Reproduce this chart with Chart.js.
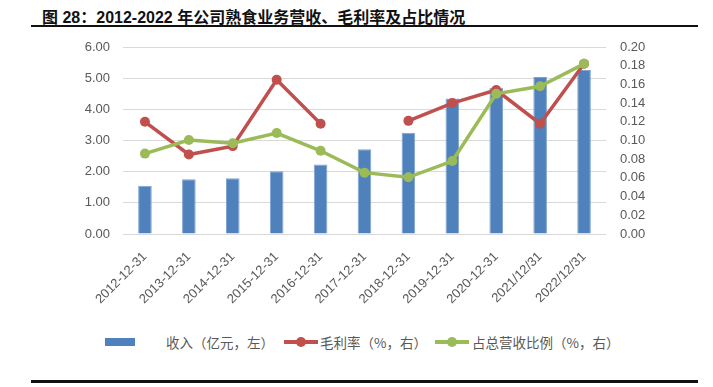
<!DOCTYPE html>
<html lang="zh-CN">
<head>
<meta charset="utf-8">
<title>熟食业务营收、毛利率及占比</title>
<script src="https://cdn.jsdelivr.net/npm/chart.js@4/dist/chart.umd.min.js"></script>
<style>
  body { margin: 0; background: #fff; }
  #page { position: relative; width: 713px; height: 387px; overflow: hidden; }
  #title { position: absolute; left: 42px; top: 4px; font: bold 16px "Liberation Sans", "Noto Sans CJK SC", sans-serif; color: #111; white-space: nowrap; }
  .rule { position: absolute; left: 31px; width: 667px; background: #111; }
  #holder { position: absolute; left: 0; top: 0; width: 713px; height: 330px; }
  .lg { position: absolute; top: 333px; font: 13.5px "Noto Sans CJK SC", sans-serif; color: #595959; white-space: nowrap; line-height: 18px; }
  .mk { position: absolute; }
</style>
</head>
<body>
<div id="page">
  <div id="title">图 28：2012-2022 年公司熟食业务营收、毛利率及占比情况</div>
  <div class="rule" style="top:25px;height:2px"></div>
  <div id="holder"><canvas id="chart"></canvas></div>
  <div id="legend"></div>
  <div class="rule" style="top:380px;height:3px"></div>
</div>

<script>
// data
const categories = ['2012-12-31', '2013-12-31', '2014-12-31', '2015-12-31', '2016-12-31',
  '2017-12-31', '2018-12-31', '2019-12-31', '2020-12-31', '2021/12/31', '2022/12/31'];
const revenue = [1.55, 1.76, 1.79, 2.01, 2.23, 2.72, 3.25, 4.35, 4.69, 5.04, 5.26];
const grossMargin = [0.120, 0.085, 0.094, 0.165, 0.118, null, 0.121, 0.140, 0.154, 0.118, 0.182];
const shareOfTotal = [0.086, 0.1005, 0.097, 0.108, 0.089, 0.0656, 0.0606, 0.078, 0.150, 0.158, 0.182];
const seriesNames = ['收入（亿元，左）', '毛利率（%，右）', '占总营收比例（%，右）'];
const leftTicks = [0, 1, 2, 3, 4, 5, 6];
const rightTicks = [0, 0.02, 0.04, 0.06, 0.08, 0.10, 0.12, 0.14, 0.16, 0.18, 0.20];

const BLUE = '#4f81bd', RED = '#c0504d', GREEN = '#9bbb59', GREY = '#595959';
const tickFont = { family: '"Liberation Sans", sans-serif', size: 13 };

new Chart(document.getElementById('chart'), {
  data: {
    labels: categories,
    datasets: [
      { type: 'bar', label: seriesNames[0], data: revenue, yAxisID: 'yL', order: 2,
        backgroundColor: BLUE, borderColor: '#7fa3cf', borderWidth: 1,
        barPercentage: 0.31, categoryPercentage: 1 },
      { type: 'line', label: seriesNames[1], data: grossMargin, yAxisID: 'yR', order: 1,
        borderColor: RED, backgroundColor: RED, borderWidth: 3.5, pointRadius: 5,
        pointBorderWidth: 0, spanGaps: false, tension: 0 },
      { type: 'line', label: seriesNames[2], data: shareOfTotal, yAxisID: 'yR', order: 0,
        borderColor: GREEN, backgroundColor: GREEN, borderWidth: 3.5, pointRadius: 5,
        pointBorderWidth: 0, tension: 0 }
    ]
  },
  options: {
    responsive: true,
    maintainAspectRatio: false,
    animation: false,
    layout: { padding: { top: 47, left: 0, right: 0, bottom: 0 } },
    plugins: { legend: { display: false }, tooltip: { enabled: false } },
    scales: {
      x: {
        grid: { display: false },
        border: { display: false },
        ticks: { color: GREY, font: tickFont, minRotation: 45, maxRotation: 45, autoSkip: false, padding: 7 },
        afterFit: s => { s.height = 96; }
      },
      yL: {
        position: 'left', min: 0, max: 6,
        grid: { color: '#d9d9d9', lineWidth: 1, drawTicks: false },
        border: { display: false },
        afterBuildTicks: s => { s.ticks = leftTicks.map(v => ({ value: v })); },
        ticks: { color: GREY, font: tickFont, padding: 13, callback: v => v.toFixed(2) },
        afterFit: s => { s.width = 123; }
      },
      yR: {
        position: 'right', min: 0, max: 0.2,
        grid: { display: false, drawTicks: false },
        border: { display: false },
        afterBuildTicks: s => { s.ticks = rightTicks.map(v => ({ value: v })); },
        ticks: { color: GREY, font: tickFont, padding: 14, callback: v => v.toFixed(2) },
        afterFit: s => { s.width = 107; }
      }
    }
  }
});

// legend drawn as html next to the chart
const legend = document.getElementById('legend');
function add(html) { legend.insertAdjacentHTML('beforeend', html); }
add(`<div class="mk" style="left:105px;top:338px;width:30px;height:8px;background:${BLUE}"></div>`);
add(`<div class="lg" style="left:166px">${seriesNames[0]}</div>`);
[[284, RED, 320, seriesNames[1]], [435, GREEN, 472, seriesNames[2]]].forEach(([x, c, tx, name]) => {
  add(`<div class="mk" style="left:${x}px;top:340px;width:34px;height:4px;background:${c}"></div>`);
  add(`<div class="mk" style="left:${x + 12}px;top:337px;width:10px;height:10px;border-radius:50%;background:${c}"></div>`);
  add(`<div class="lg" style="left:${tx}px">${name}</div>`);
});
</script>
</body>
</html>
